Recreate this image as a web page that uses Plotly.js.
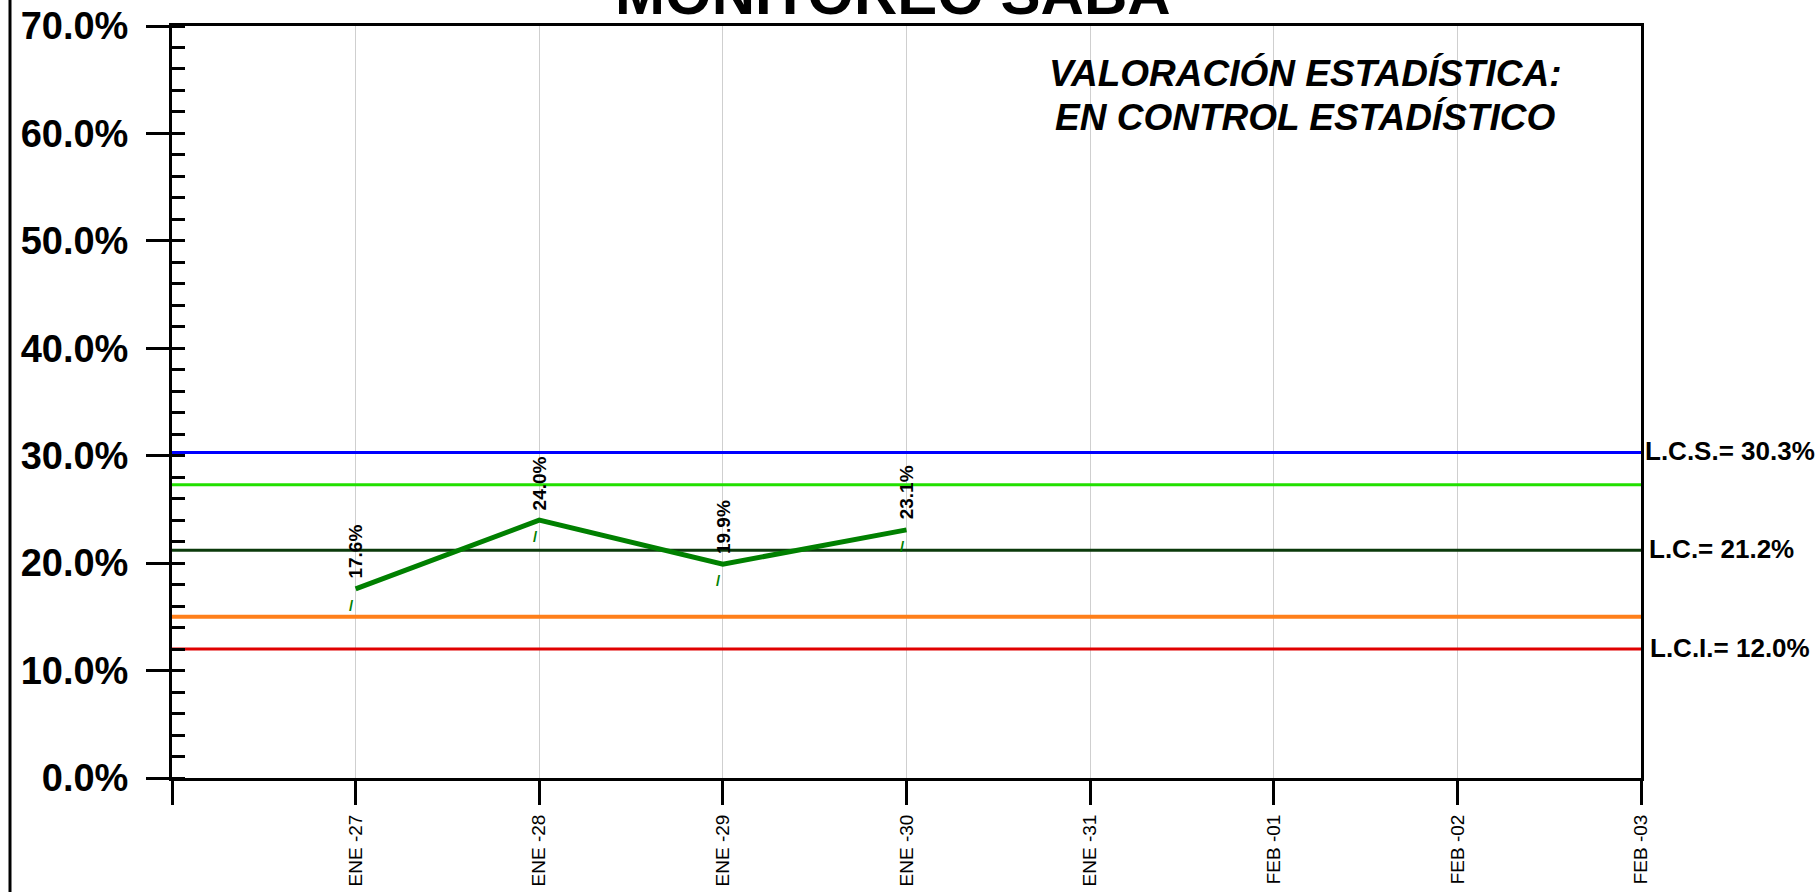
<!DOCTYPE html>
<html>
<head>
<meta charset="utf-8">
<script src="https://cdn.plot.ly/plotly-3.0.1.min.js"></script>
<style>html,body{margin:0;padding:0;background:#fff;}#chart{width:1818px;height:892px;}</style>
</head>
<body>
<div id="chart"></div>
<script>
// ---- data ----
const categories = ['ENE -27', 'ENE -28', 'ENE -29', 'ENE -30', 'ENE -31', 'FEB -01', 'FEB -02', 'FEB -03'];
const values = [17.6, 24.0, 19.9, 23.1];
const LCS = 30.3;
const UPPER2 = 27.3;
const LC = 21.2;
const LOWER2 = 15.0;
const LCI = 12.0;
const limitLabels = ['L.C.S.= 30.3%', 'L.C.= 21.2%', 'L.C.I.= 12.0%'];
const titleText = 'MONITOREO SABA';
const statusLines = ['VALORACIÓN ESTADÍSTICA:', 'EN CONTROL ESTADÍSTICO'];

const FONT = 'Arial, "Liberation Sans", sans-serif';
const idx = categories.map((c, i) => i);
const xRange = [-1, categories.length - 1];
const tickVals = [-1].concat(idx);
const tickText = [''].concat(categories);

function hline(v, color, width) {
  return {x: xRange, y: [v, v], mode: 'lines', line: {color: color, width: width},
          hoverinfo: 'skip', showlegend: false, cliponaxis: false};
}

const traces = [
  hline(LCS, '#0000ff', 3),
  hline(UPPER2, '#22e000', 3),
  hline(LC, '#0b3a0b', 3),
  hline(LOWER2, '#ff7f1a', 4),
  hline(LCI, '#e00000', 3),
  {x: idx.slice(0, values.length), y: values, mode: 'lines',
   line: {color: '#008000', width: 5}, showlegend: false, hoverinfo: 'skip'}
];

const annotations = [];
values.forEach((v, i) => {
  annotations.push({x: i, y: v, xref: 'x', yref: 'y', text: v.toFixed(1) + '%',
    textangle: -90, showarrow: false, xanchor: 'center', yanchor: 'bottom', yshift: 8,
    font: {family: FONT, size: 19, color: '#000', weight: 700}});
  annotations.push({x: i, y: v, xref: 'x', yref: 'y', text: '/',
    showarrow: false, xanchor: 'center', yanchor: 'top', yshift: -6, xshift: -4,
    font: {family: FONT, size: 15, color: '#008000', weight: 700}});
});
[[LCS, limitLabels[0], 0], [LC, limitLabels[1], 4], [LCI, limitLabels[2], 5]].forEach(a => {
  annotations.push({x: 1, y: a[0], xref: 'paper', yref: 'y', text: a[1], showarrow: false,
    xanchor: 'left', yanchor: 'middle', xshift: a[2] + 2, yshift: 1,
    font: {family: FONT, size: 26, color: '#000', weight: 700}});
});
annotations.push({x: (893 - 172) / 1469, y: 1, xref: 'paper', yref: 'paper', text: titleText,
  showarrow: false, xanchor: 'center', yanchor: 'bottom', yshift: -3,
  font: {family: FONT, size: 60, color: '#000', weight: 700}});
[[statusLines[0], 73], [statusLines[1], 117]].forEach(s => {
  annotations.push({x: (1305 - 172) / 1469, y: 1 - (s[1] - 26) / 752, xref: 'paper', yref: 'paper',
    text: s[0], showarrow: false, xanchor: 'center', yanchor: 'middle',
    font: {family: FONT, size: 37, color: '#000', weight: 700, style: 'italic'}});
});

const layout = {
  width: 1818, height: 892,
  margin: {l: 172, r: 177, t: 26, b: 114, pad: 0},
  paper_bgcolor: '#fff', plot_bgcolor: '#fff',
  showlegend: false,
  xaxis: {
    range: xRange, tickmode: 'array', tickvals: tickVals, ticktext: tickText,
    tickangle: -90, ticks: 'outside', ticklen: 24, tickwidth: 3, tickcolor: '#000',
    showgrid: true, gridcolor: '#cfcfcf', gridwidth: 1, zeroline: false,
    showline: true, linecolor: '#000', linewidth: 3, mirror: true,
    ticklabelstandoff: 2,
    tickfont: {family: FONT, size: 19, color: '#000'}
  },
  yaxis: {
    range: [0, 70], dtick: 10, tick0: 0, tickformat: '.1f', ticksuffix: '%',
    ticks: 'outside', ticklen: 23, tickwidth: 3, tickcolor: '#000',
    showgrid: false, zeroline: false,
    showline: true, linecolor: '#000', linewidth: 3, mirror: true,
    ticklabelstandoff: 10,
    tickfont: {family: FONT, size: 38, color: '#000', weight: 700},
    minor: {ticks: 'inside', ticklen: 13, tickwidth: 3, tickcolor: '#000', dtick: 2, showgrid: false}
  },
  shapes: [
    {type: 'line', xref: 'paper', yref: 'paper', x0: (10 - 172) / 1469, x1: (10 - 172) / 1469,
     y0: -0.2, y1: 1.1, line: {color: '#000', width: 3}}
  ],
  annotations: annotations
};

Plotly.newPlot('chart', traces, layout, {displayModeBar: false, staticPlot: true});
</script>
</body>
</html>
